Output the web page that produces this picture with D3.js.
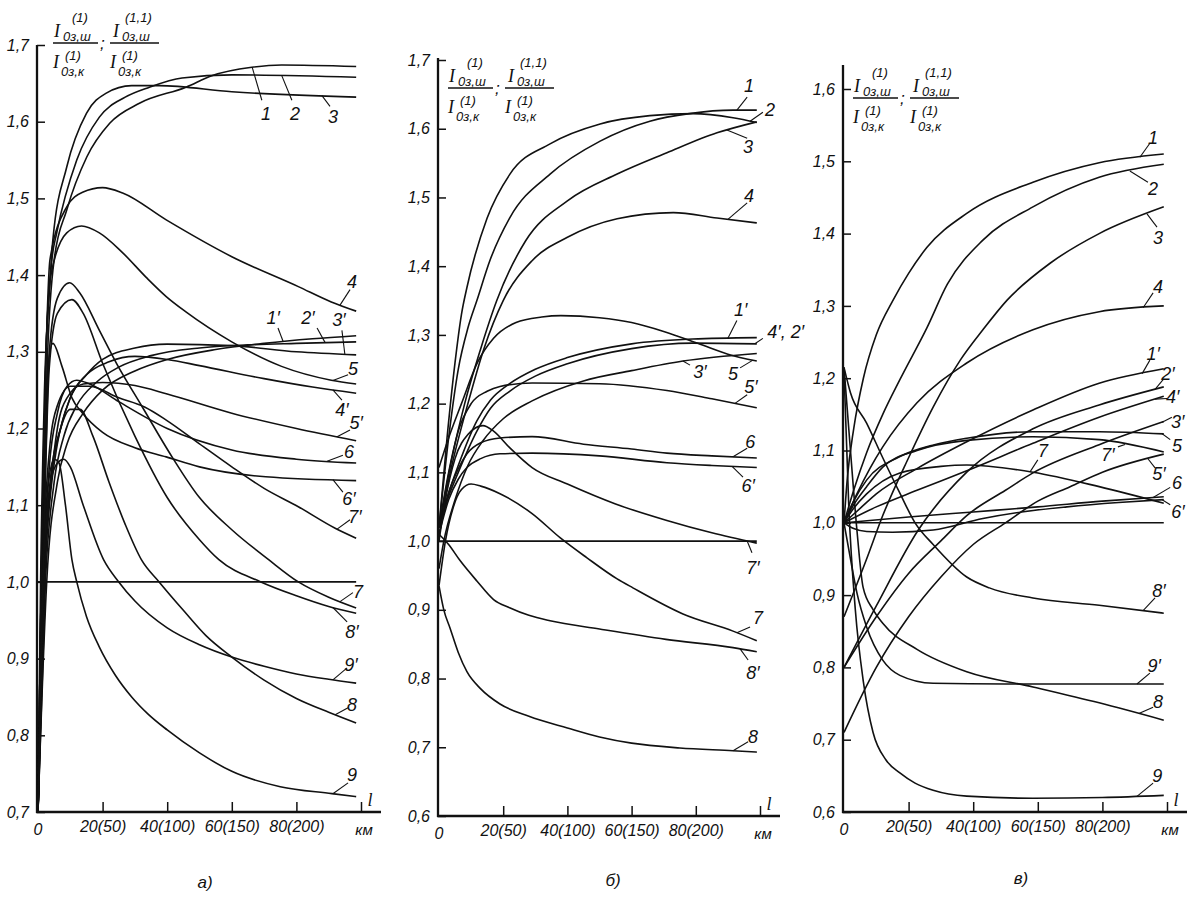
<!DOCTYPE html>
<html><head><meta charset="utf-8">
<script src="https://cdn.jsdelivr.net/npm/d3@7"></script>
<style>
body{margin:0;background:#fff}
svg{display:block}
text{font-family:"Liberation Sans",Arial,sans-serif;font-style:italic;fill:#111}
</style>
</head><body>
<svg id="c" width="1194" height="901"></svg>
<script>
// ---------- tick labels ----------
const xTickVals = [20, 40, 60, 80, 100];
const xTickText = ["20(50)", "40(100)", "60(150)", "80(200)", ""];
const yTicksA = [0.7, 0.8, 0.9, 1.0, 1.1, 1.2, 1.3, 1.4, 1.5, 1.6, 1.7];
const yTicksB = [0.6, 0.7, 0.8, 0.9, 1.0, 1.1, 1.2, 1.3, 1.4, 1.5, 1.6, 1.7];
const yTicksC = [0.6, 0.7, 0.8, 0.9, 1.0, 1.1, 1.2, 1.3, 1.4, 1.5, 1.6];
const captions = ["а)", "б)", "в)"];

// ---------- panel а) curves [l, ratio] ----------
const a1 = [[0,0.7],[1.2,1.0],[3,1.3],[5,1.42],[8.9,1.485],[15.1,1.554],[22.2,1.598],[31.4,1.624],[45.8,1.645],[53.8,1.66],[66.2,1.671],[75.4,1.674],[98.5,1.672]];
const a2 = [[0,0.7],[1,1.0],[2.5,1.3],[4.3,1.42],[5.8,1.455],[12,1.55],[19,1.606],[27,1.632],[34.5,1.645],[44.6,1.657],[60,1.661],[98.5,1.658]];
const a3 = [[0,0.7],[0.8,1.0],[2,1.25],[3.7,1.39],[4.6,1.446],[8.9,1.541],[15,1.611],[21,1.637],[29,1.647],[37.5,1.647],[60,1.639],[98.5,1.632]];
const a4 = [[0,0.7],[1,1.0],[2.5,1.3],[3.7,1.42],[8.9,1.489],[13.8,1.508],[20,1.514],[26.2,1.507],[39.7,1.472],[60,1.424],[80.6,1.385],[90.8,1.365],[98.5,1.353]];
const a5 = [[0,0.7],[1,1.0],[2.5,1.3],[4,1.4],[8.9,1.455],[13.5,1.464],[19,1.455],[26,1.43],[33.5,1.397],[39.7,1.372],[45.8,1.352],[60,1.313],[75.4,1.281],[90.8,1.263],[98.5,1.258]];
const a6 = [[0,0.7],[1.6,1.0],[3.5,1.15],[6,1.22],[9,1.255],[12,1.263],[16,1.258],[25,1.235],[40,1.2],[60,1.172],[80,1.16],[98.5,1.155]];
const a7 = [[0,0.7],[1.5,1.0],[3.5,1.3],[6,1.37],[9.8,1.39],[12.9,1.377],[19,1.328],[24.3,1.285],[32.3,1.228],[41.5,1.163],[49.8,1.111],[60,1.068],[71.4,1.029],[80.6,1.0],[90,0.98],[98.5,0.966]];
const a8 = [[0,0.7],[1.8,1.0],[4,1.14],[7,1.2],[10,1.225],[13,1.225],[17,1.19],[22,1.13],[27,1.075],[32,1.029],[37.5,1.0],[45,0.963],[52,0.93],[60,0.902],[70,0.872],[80,0.848],[90,0.83],[98.5,0.816]];
const a9 = [[0,0.7],[1.5,1.0],[3,1.12],[5,1.16],[6.5,1.155],[8.5,1.1],[10.5,1.029],[12,1.0],[15,0.955],[19,0.915],[24,0.878],[29,0.85],[34,0.828],[40,0.807],[50,0.777],[60,0.753],[75,0.733],[91,0.724],[98.5,0.72]];
const a1p = [[0,0.7],[2.7,1.0],[6,1.13],[9,1.18],[14,1.22],[20,1.25],[30,1.275],[40,1.29],[55,1.303],[70,1.311],[85,1.317],[98.5,1.321]];
const a2p = [[0,0.7],[2.3,1.0],[5,1.13],[8,1.19],[12,1.23],[18,1.26],[25,1.28],[35,1.295],[50,1.305],[65,1.309],[80,1.311],[98.5,1.313]];
const a3p = [[0,0.7],[2,1.0],[4,1.12],[6,1.18],[10,1.24],[15,1.27],[20,1.29],[30,1.305],[40,1.31],[60,1.308],[80,1.3],[98.5,1.296]];
const a4p = [[0,0.7],[2,1.0],[4,1.13],[7,1.2],[10,1.24],[15,1.27],[22,1.287],[30,1.294],[40,1.29],[50,1.282],[70,1.265],[85,1.254],[98.5,1.246]];
const a5p = [[0,0.7],[1.8,1.0],[4,1.13],[6,1.2],[9,1.24],[14,1.258],[20,1.26],[30,1.256],[40,1.245],[60,1.22],[80,1.2],[98.5,1.184]];
const a6p = [[0,0.7],[1,1.0],[2.5,1.25],[4.6,1.311],[7.5,1.28],[10.5,1.24],[13.8,1.22],[20,1.195],[30,1.175],[39.7,1.163],[50,1.15],[70.5,1.137],[98.5,1.132]];
const a7p = [[0,0.7],[1.4,1.0],[3.5,1.17],[6,1.23],[10,1.255],[16,1.255],[25,1.24],[33,1.228],[39.7,1.211],[50,1.18],[60,1.15],[70,1.122],[80.6,1.098],[92,1.07],[98.5,1.057]];
const a8p = [[0,0.7],[1.5,1.0],[3.5,1.28],[6,1.35],[10.5,1.368],[14,1.35],[20,1.285],[30,1.19],[40,1.11],[50,1.055],[56,1.029],[69,1.0],[80,0.982],[90,0.968],[98.5,0.959]];
const a9p = [[0,0.7],[1.5,1.0],[3.5,1.12],[6,1.155],[8,1.16],[10,1.15],[14,1.1],[20.3,1.029],[25,1.0],[30,0.975],[40,0.94],[50,0.918],[60,0.902],[70,0.89],[80,0.88],[90,0.873],[98.5,0.868]];
const aRef = [[0,1.0],[98.5,1.0]];

// ---------- panel б) curves ----------
const b1 = [[0,1.02],[3,1.15],[6,1.25],[9,1.31],[11.8,1.35],[16,1.41],[22,1.47],[34.6,1.534],[50.2,1.582],[65.7,1.611],[78,1.622],[91.6,1.627],[99,1.627]];
const b2 = [[0,1.02],[2.5,1.15],[5,1.26],[7,1.33],[8.7,1.369],[15,1.47],[22.1,1.534],[34.6,1.578],[50.2,1.607],[65.7,1.619],[79,1.622],[91.6,1.616],[99,1.609]];
const b3 = [[0,1.02],[4,1.12],[8,1.2],[13,1.28],[18,1.35],[27,1.437],[40,1.495],[55.5,1.534],[71,1.565],[86.6,1.594],[99,1.61]];
const b4 = [[0,1.02],[4,1.11],[9,1.2],[14,1.28],[20,1.35],[29,1.408],[40,1.442],[55.5,1.469],[73,1.478],[86.6,1.47],[99,1.463]];
const b5 = [[0,1.107],[3,1.15],[7,1.2],[12,1.26],[17,1.295],[24,1.318],[32,1.326],[38,1.328],[50,1.325],[60,1.318],[70,1.305],[81,1.287],[90,1.272],[99,1.262]];
const b6 = [[0,1.01],[3,1.07],[6,1.105],[8.7,1.127],[13,1.143],[19,1.15],[29,1.152],[45,1.141],[60,1.134],[71,1.128],[85,1.124],[99,1.121]];
const b7 = [[0,0.935],[2,1.0],[4.5,1.05],[7,1.075],[10,1.083],[13,1.08],[19,1.069],[29,1.04],[37.7,1.005],[46,0.976],[55.5,0.945],[60.4,0.932],[76,0.894],[91.6,0.869],[99,0.855]];
const b8 = [[0,0.935],[1.5,0.9],[3.4,0.874],[6,0.838],[8.7,0.81],[13,0.785],[19,0.763],[28,0.745],[40,0.728],[50,0.715],[60,0.706],[75,0.699],[91.6,0.695],[99,0.693]];
const b1p = [[0,1.02],[3,1.07],[6,1.11],[11.8,1.175],[16,1.205],[22,1.229],[30,1.25],[40,1.267],[60,1.287],[79,1.294],[99,1.296]];
const b24p = [[0,1.02],[3,1.065],[6,1.1],[11.8,1.16],[16,1.193],[22,1.218],[30,1.24],[40,1.258],[60,1.28],[79,1.288],[99,1.287]];
const b3p = [[0,0.96],[1.5,1.0],[5,1.06],[9,1.11],[13.7,1.146],[20,1.178],[29,1.204],[45,1.233],[60,1.248],[76,1.262],[99,1.273]];
const b5p = [[0,1.02],[3,1.1],[6,1.16],[10,1.2],[15,1.218],[19,1.225],[29,1.23],[50,1.229],[71,1.219],[85,1.207],[99,1.194]];
const b6p = [[0,1.01],[3,1.06],[6,1.09],[8.7,1.107],[13,1.12],[19,1.127],[29,1.128],[50,1.124],[71,1.114],[85,1.11],[99,1.107]];
const b7p = [[0,1.0],[2,1.06],[5,1.12],[9,1.155],[13.7,1.168],[17,1.16],[22,1.136],[29,1.107],[40,1.083],[55,1.054],[71,1.03],[85,1.012],[99,0.997]];
const b8p = [[0,1.01],[3,0.995],[6.5,0.972],[11.8,0.942],[17,0.915],[22,0.903],[28,0.892],[34.6,0.884],[50,0.872],[70.7,0.857],[91.6,0.845],[99,0.839]];
const bRef = [[0,1.0],[99,1.0]];

// ---------- panel в) curves ----------
const c1 = [[0,1.0],[1,1.06],[3,1.13],[6,1.2],[10,1.26],[15.2,1.308],[20,1.345],[25.7,1.381],[38,1.428],[58.5,1.471],[79,1.498],[99,1.51]];
const c2 = [[0,1.0],[3,1.045],[7,1.097],[12,1.15],[17.3,1.198],[25.7,1.27],[32,1.33],[43,1.391],[58.5,1.437],[79,1.478],[99,1.496]];
const c3 = [[0,0.87],[7,0.95],[12,1.01],[20,1.09],[27.6,1.16],[36,1.225],[43,1.267],[50.5,1.308],[63.8,1.359],[79,1.4],[99,1.437]];
const c4 = [[0,1.0],[4,1.04],[8,1.075],[12,1.105],[22.6,1.166],[38,1.221],[58.5,1.267],[79,1.292],[99,1.3]];
const c5 = [[0,1.0],[3,1.03],[7,1.059],[17,1.091],[28,1.108],[38,1.117],[58.5,1.126],[79,1.126],[99,1.123]];
const c6 = [[0,1.0],[20,1.008],[40,1.015],[60,1.022],[80,1.03],[99,1.036]];
const c7 = [[0,1.0],[3,1.02],[7,1.04],[17.3,1.069],[30,1.078],[38,1.08],[58.5,1.07],[79,1.05],[99,1.027]];
const c8 = [[0,1.215],[2,1.1],[4,0.99],[5.9,0.911],[9,0.88],[12,0.861],[22.6,0.825],[38,0.794],[58.5,0.773],[79,0.751],[99,0.727]];
const c9 = [[0,1.21],[1.5,1.02],[3.5,0.88],[6,0.78],[9,0.71],[13,0.672],[17.3,0.654],[22,0.64],[27.6,0.63],[38,0.622],[58.5,0.619],[80,0.62],[99,0.623]];
const c1p = [[0,1.0],[5,1.02],[10,1.04],[22.6,1.075],[38,1.112],[58.5,1.156],[79,1.193],[99,1.213]];
const c2p = [[0,0.8],[10,0.885],[23,0.99],[38,1.07],[58.5,1.13],[79,1.163],[99,1.188]];
const c3p = [[0,0.8],[10,0.87],[20,0.93],[30,0.975],[38,1.01],[50,1.045],[58.5,1.069],[79,1.108],[99,1.14]];
const c4p = [[0,1.0],[10,1.022],[22.6,1.045],[38,1.072],[58.5,1.11],[79,1.146],[99,1.175]];
const c5p = [[0,0.71],[10,0.8],[20,0.87],[30,0.925],[40,0.97],[50,1.0],[60,1.03],[70,1.05],[80,1.07],[99,1.095]];
const c6p = [[0,1.0],[3,0.992],[7,0.988],[15,0.987],[27.6,0.99],[43,1.006],[55,1.015],[69,1.022],[85,1.028],[99,1.032]];
const c7p = [[0,1.0],[3,1.025],[7,1.05],[12,1.077],[22.6,1.1],[38,1.114],[58.5,1.119],[79,1.115],[99,1.098]];
const c8p = [[0,1.215],[2,1.18],[7,1.138],[12,1.09],[17.3,1.041],[22,1.0],[27.6,0.97],[38,0.925],[45,0.91],[58.5,0.896],[79,0.886],[99,0.875]];
const c9p = [[0,1.0],[2,0.95],[4,0.903],[7,0.856],[12,0.81],[17.3,0.789],[27.6,0.778],[50,0.777],[99,0.777]];
const cRef = [[0,1.0],[99,1.0]];

// ---------- curve labels: [text, curve, leader-start l, leader-end l, leader-end ratio, text l, text ratio] ----------
const labelsA = [
  ["1", a1, 66.3, 69.3, 1.628, 70.6, 1.610],
  ["2", a2, 75.5, 78.6, 1.628, 79.6, 1.610],
  ["3", a3, 87.9, 90.4, 1.620, 91.3, 1.606],
  ["4", a4, 93.5, 96.6, 1.381, 97.2, 1.392],
  ["1′", a1p, 75.9, 74.3, 1.331, 72.8, 1.345],
  ["2′", a2p, 88.9, 86.4, 1.331, 83.6, 1.345],
  ["3′", a3p, 95.0, 94.1, 1.328, 93.2, 1.342],
  ["5", a5, 91.3, 96.0, 1.270, 97.5, 1.278],
  ["4′", a4p, 91.3, 94.1, 1.237, 94.1, 1.225],
  ["5′", a5p, 92.6, 96.6, 1.198, 98.5, 1.207],
  ["6", a6, 89.5, 94.4, 1.165, 96.3, 1.170],
  ["6′", a6p, 91.3, 94.4, 1.117, 96.3, 1.108],
  ["7′", a7p, 92.6, 96.6, 1.081, 98.1, 1.085],
  ["7", a7, 93.5, 97.5, 0.986, 99.1, 0.987],
  ["8′", a8p, 91.3, 95.7, 0.948, 97.2, 0.935],
  ["9′", a9p, 91.3, 95.7, 0.888, 96.9, 0.892],
  ["8", a8, 92.0, 96.0, 0.836, 97.2, 0.840],
  ["9", a9, 91.3, 96.0, 0.738, 97.2, 0.748]
];
const labelsB = [
  ["1", b1, 92.8, 96.0, 1.646, 96.6, 1.662],
  ["2", b2, 96.9, 100.9, 1.624, 103.1, 1.627],
  ["3", b3, 89.7, 96.0, 1.586, 96.3, 1.574],
  ["4", b4, 90.0, 96.0, 1.492, 96.6, 1.503],
  ["1′", b1p, 90.0, 92.8, 1.321, 94.0, 1.336],
  ["4′, 2′", b24p, 98.4, 100.9, 1.295, 108.0, 1.304],
  ["3′", b3p, 76.0, 78.2, 1.256, 81.3, 1.246],
  ["5", b5, 97.8, 93.8, 1.252, 91.6, 1.244],
  ["5′", b5p, 92.2, 96.0, 1.213, 97.2, 1.224],
  ["6", b6, 91.6, 96.0, 1.135, 97.0, 1.145],
  ["6′", b6p, 91.3, 94.7, 1.093, 96.3, 1.080],
  ["7′", b7p, 96.0, 97.5, 0.983, 97.8, 0.962],
  ["7", b7, 92.8, 96.9, 0.875, 99.4, 0.888],
  ["8′", b8p, 93.8, 96.3, 0.827, 97.8, 0.809],
  ["8", b8, 91.6, 96.3, 0.708, 97.8, 0.716]
];
const labelsC = [
  ["1", c1, 91.6, 94.7, 1.525, 95.7, 1.533],
  ["2", c2, 88.5, 94.1, 1.471, 95.7, 1.462],
  ["3", c3, 93.8, 96.9, 1.409, 97.2, 1.394],
  ["4", c4, 92.6, 95.7, 1.318, 97.2, 1.327],
  ["1′", c1p, 92.3, 94.7, 1.225, 95.7, 1.234],
  ["2′", c2p, 96.3, 98.8, 1.198, 100.3, 1.206],
  ["4′", c4p, 96.3, 100.0, 1.172, 101.8, 1.174],
  ["3′", c3p, 98.5, 101.5, 1.146, 103.3, 1.140],
  ["5", c5, 98.5, 101.0, 1.115, 103.1, 1.106],
  ["7′", c7p, 87.0, 84.8, 1.105, 81.7, 1.094],
  ["5′", c5p, 94.1, 96.3, 1.076, 97.5, 1.068],
  ["7", c7, 57.6, 60.0, 1.087, 61.6, 1.100],
  ["6", c6, 95.7, 101.0, 1.049, 103.1, 1.056],
  ["6′", c6p, 98.5, 101.0, 1.025, 103.4, 1.016],
  ["8′", c8p, 92.6, 96.3, 0.896, 97.5, 0.906],
  ["9′", c9p, 90.7, 94.7, 0.792, 96.0, 0.802],
  ["8", c8, 91.3, 95.7, 0.745, 97.2, 0.752],
  ["9", c9, 90.7, 95.7, 0.640, 97.0, 0.650]
];

const curvesA = [a1,a2,a3,a4,a5,a6,a7,a8,a9,a1p,a2p,a3p,a4p,a5p,a6p,a7p,a8p,a9p,aRef];
const curvesB = [b1,b2,b3,b4,b5,b6,b7,b8,b1p,b24p,b3p,b5p,b6p,b7p,b8p,bRef];
const curvesC = [c1,c2,c3,c4,c5,c6,c7,c8,c9,c1p,c2p,c3p,c4p,c5p,c6p,c7p,c8p,c9p,cRef];

// ---------- layout ----------
const panels = [
  {x0:38, x1:361, yDom:[0.7,1.7], yBot:812, yTop:45, axisTop:45, ticks:yTicksA, curves:curvesA, labels:labelsA, tx:53, ty:43, capX:205, capY:888},
  {x0:439, x1:760, yDom:[0.6,1.7], yBot:816, yTop:60, axisTop:58, ticks:yTicksB, curves:curvesB, labels:labelsB, tx:448, ty:88, capX:613, capY:886},
  {x0:844, x1:1167, yDom:[0.6,1.6], yBot:812, yTop:89, axisTop:65, ticks:yTicksC, curves:curvesC, labels:labelsC, tx:853, ty:98, capX:1021, capY:884}
];

const svg = d3.select("#c");
const fmt = d => d.toFixed(1).replace(".", ",");
const INK = "#111";

function yAt(pts, xv) {
  for (let i = 1; i < pts.length; i++) {
    if (xv <= pts[i][0]) {
      const [x0,y0] = pts[i-1], [x1,y1] = pts[i];
      return y0 + (y1-y0)*(xv-x0)/(x1-x0);
    }
  }
  return pts[pts.length-1][1];
}

function title(tx, ty) {
  const g = svg.append("g");
  const t = (x,y,s,size,serif) => g.append("text").attr("x",x).attr("y",y).attr("font-size",size)
      .style("font-family", serif ? '"Liberation Serif",serif' : null).text(s);
  const bar = (x1,x2) => g.append("line").attr("x1",x1).attr("x2",x2).attr("y1",ty).attr("y2",ty)
      .attr("stroke",INK).attr("stroke-width",1.3);
  bar(tx, tx+45);
  t(tx+1, ty-6, "I", 18, true); t(tx+10, ty-2, "0з,ш", 13); t(tx+19, ty-21, "(1)", 13);
  t(tx+0, ty+25, "I", 18, true); t(tx+12, ty+17, "(1)", 13); t(tx+8, ty+33, "0з,к", 13);
  t(tx+47, ty+6, ";", 17);
  const x2 = tx + 57;
  bar(x2, x2+49);
  t(x2+3, ty-6, "I", 18, true); t(x2+12, ty-2, "0з,ш", 13); t(x2+15, ty-21, "(1,1)", 13);
  t(x2+0, ty+25, "I", 18, true); t(x2+12, ty+17, "(1)", 13); t(x2+8, ty+33, "0з,к", 13);
}

panels.forEach((p, pi) => {
  const x = d3.scaleLinear().domain([0,100]).range([p.x0, p.x1]);
  const y = d3.scaleLinear().domain(p.yDom).range([p.yBot, p.yTop]);
  const g = svg.append("g");
  const ax = x(0) - 1, ay = y(p.yDom[0]);

  // axis lines
  g.append("line").attr("x1",ax).attr("x2",ax).attr("y1",ay+1).attr("y2",p.axisTop)
    .attr("stroke",INK).attr("stroke-width",2.3);
  g.append("line").attr("x1",ax-1).attr("x2",x(100)+20).attr("y1",ay).attr("y2",ay)
    .attr("stroke",INK).attr("stroke-width",2.3);

  // y ticks
  const ya = g.append("g").attr("transform",`translate(${ax},0)`)
    .call(d3.axisLeft(y).tickValues(p.ticks).tickSizeInner(-8).tickSizeOuter(0).tickPadding(8).tickFormat(fmt));
  ya.select(".domain").remove();
  ya.selectAll(".tick line").attr("stroke",INK).attr("stroke-width",1.5);
  ya.selectAll(".tick text").attr("font-size",16).attr("fill",INK)
    .style("font-family",'"Liberation Sans",Arial,sans-serif').style("font-style","italic");

  // x ticks
  const xa = g.append("g").attr("transform",`translate(0,${ay})`)
    .call(d3.axisBottom(x).tickValues(xTickVals).tickSizeInner(-10).tickSizeOuter(0).tickPadding(9)
      .tickFormat((d,i) => xTickText[i]));
  xa.select(".domain").remove();
  xa.selectAll(".tick line").attr("stroke",INK).attr("stroke-width",1.5);
  xa.selectAll(".tick text").attr("font-size",16).attr("fill",INK)
    .style("font-family",'"Liberation Sans",Arial,sans-serif').style("font-style","italic");

  g.append("text").attr("x",x(0)).attr("y",ay+23).attr("text-anchor","middle").attr("font-size",16).text("0");
  g.append("text").attr("x",x(100)+3).attr("y",ay+23).attr("text-anchor","middle").attr("font-size",15).text("км");
  g.append("text").attr("x",x(100)+9).attr("y",ay-6).attr("text-anchor","middle").attr("font-size",18)
    .style("font-family",'"Liberation Serif",serif').text("l");

  // curves
  const line = d3.line().x(d => x(d[0])).y(d => y(d[1])).curve(d3.curveMonotoneX);
  g.selectAll("path.curve").data(p.curves).enter().append("path")
    .attr("class","curve").attr("d", line)
    .attr("fill","none").attr("stroke",INK).attr("stroke-width",1.6).attr("stroke-linejoin","round");

  // labels with leaders
  p.labels.forEach(([txt, pts, lx0, lx1, ly1, tx, tyv]) => {
    g.append("line").attr("x1",x(lx0)).attr("y1",y(yAt(pts,lx0))).attr("x2",x(lx1)).attr("y2",y(ly1))
      .attr("stroke",INK).attr("stroke-width",1.1);
    g.append("text").attr("x",x(tx)).attr("y",y(tyv)).attr("dy","0.35em").attr("text-anchor","middle")
      .attr("font-size",18).text(txt);
  });

  title(p.tx, p.ty);
  g.append("text").attr("x",p.capX).attr("y",p.capY).attr("text-anchor","middle").attr("font-size",17).text(captions[pi]);
});
</script>
</body></html>
